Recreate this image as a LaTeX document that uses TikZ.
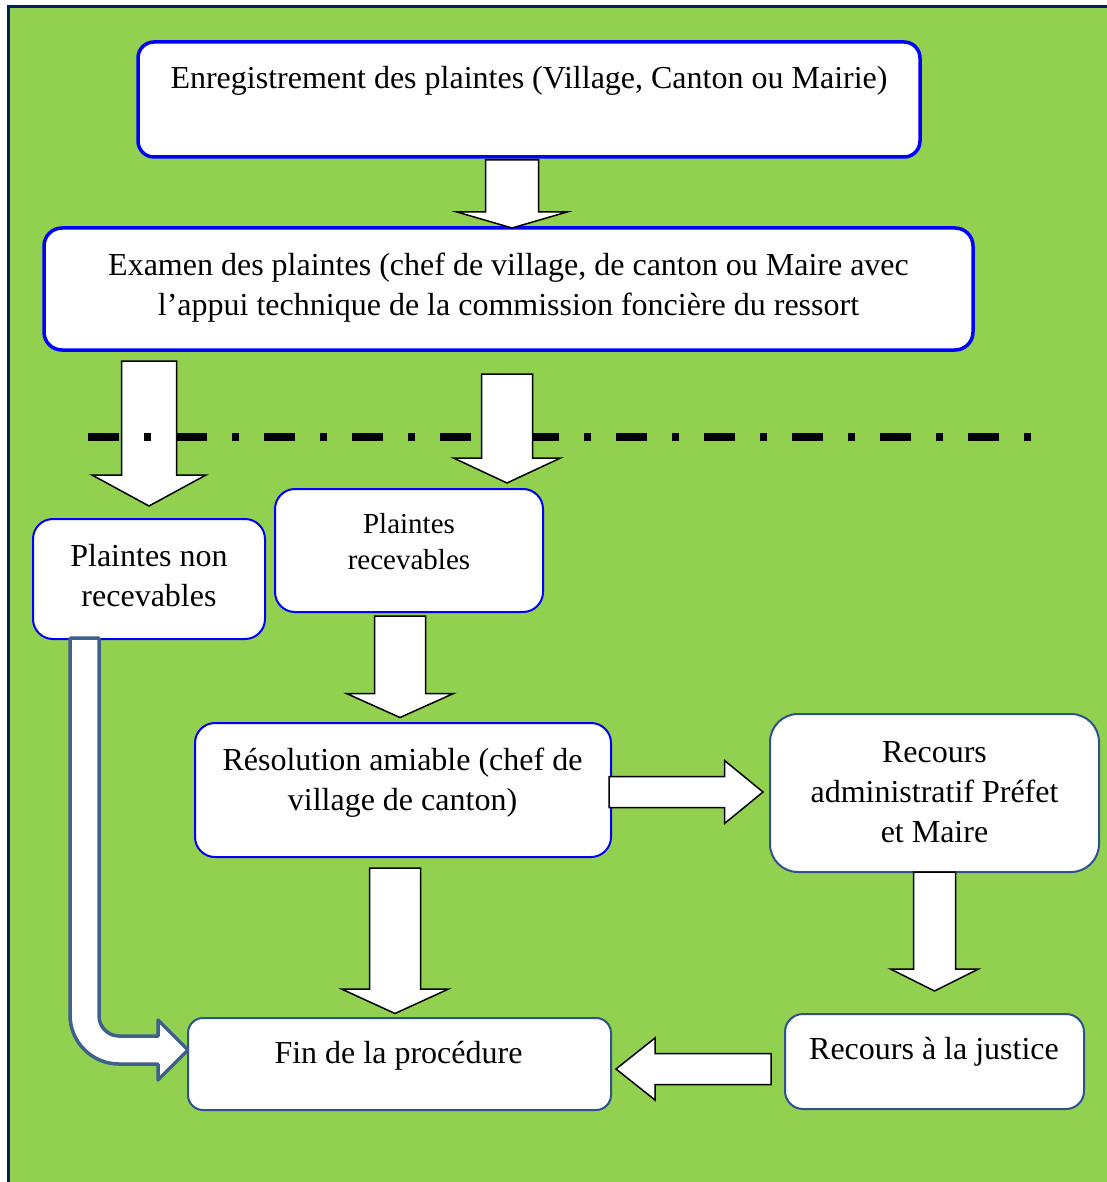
\documentclass[tikz,border=0pt]{standalone}
\usepackage{fontspec}
\setmainfont{Liberation Serif}
\usepackage{xcolor}
\usepackage{tikz}
\usetikzlibrary{calc}

\definecolor{fieldgreen}{RGB}{146,208,80}
\definecolor{framenavy}{RGB}{0,32,96}
\definecolor{boxblue}{RGB}{0,0,255}
\definecolor{boxsteel}{RGB}{47,82,143}
\definecolor{bentsteel}{RGB}{61,96,140}

% block arrow: [style]{from}{tip}{shaft half width}{head half width}{head length}
\newcommand{\blockarrow}[6][]{%
    \coordinate (bahead) at ($(#3)!#6!(#2)$);
    \draw [blockarrow, #1] ($(#2)!#4!90:(#3)$) -- ($(bahead)!#4!90:(#3)$) -- ($(bahead)!#5!90:(#3)$)
        -- (#3) -- ($(bahead)!#5!-90:(#3)$) -- ($(bahead)!#4!-90:(#3)$) -- ($(#2)!#4!-90:(#3)$) -- cycle;}

\begin{document}
\begin{tikzpicture}[x = 1pt, y = -1pt,
        box/.style = {draw = boxblue, fill = white, line width = 2pt, rounded corners = 18pt, inner sep = 0pt, outer sep = 0pt},
        bigbox/.style = {box, line width = 3.5pt, rounded corners = 16pt},
        steelbox/.style = {box, draw = boxsteel},
        txt/.style = {font = \fontsize{32}{40}\selectfont, align = center, inner sep = 0pt},
        blockarrow/.style = {draw = black, fill = white, line width = 1.5pt, line join = miter}]

    % Draw the frame:
    \fill [white] (0,0) rectangle (1107,1182);
    \useasboundingbox (0,0) rectangle (1107,1182);
    \fill [fieldgreen] (8.7,6.5) rectangle (1107,1182);
    \draw [framenavy, line width = 3.4pt] (8.7,1182) -- (8.7,6.5) -- (1107,6.5);

    % Draw the boxes:
    \node [bigbox, minimum width = 782pt, minimum height = 115pt] (enreg) at (529,99.5) {};
    \node [bigbox, minimum width = 929pt, minimum height = 122pt, rounded corners = 18pt] (examen) at (508.5,289) {};
    \node [box, minimum width = 232pt, minimum height = 120pt, rounded corners = 20pt] (nonrec) at (149,579) {};
    \node [box, minimum width = 268pt, minimum height = 123pt, rounded corners = 20pt] (recv) at (409,550.5) {};
    \node [box, minimum width = 416pt, minimum height = 134pt, rounded corners = 20pt] (resol) at (403,790) {};
    \node [steelbox, minimum width = 329pt, minimum height = 158pt, rounded corners = 28pt] (admin) at (934.5,793) {};
    \node [steelbox, minimum width = 423pt, minimum height = 92pt, rounded corners = 15pt] (fin) at (399.5,1064) {};
    \node [steelbox, minimum width = 299pt, minimum height = 95pt] (justice) at (934.5,1061.5) {};

    % Draw the texts:
    \node [txt] (enregtxt) at (529,81) {\strut Enregistrement des plaintes (Village, Canton ou Mairie)};
    \node [txt] (examentxt) at (508.5,287.5) {\strut Examen des plaintes (chef de village, de canton ou Maire avec\\\strut l’appui technique de la commission foncière du ressort};
    \node [txt] (nonrectxt) at (149,578.5) {\strut Plaintes non\\\strut recevables};
    \node [txt, font = \fontsize{29}{36}\selectfont] (recvtxt) at (409,544.5) {\strut Plaintes\\\strut recevables};
    \node [txt] (resoltxt) at (402.5,782) {\strut Résolution amiable (chef de\\\strut village de canton)};
    \node [txt] (admintxt) at (934.5,794) {\strut Recours\\\strut administratif Préfet\\\strut et Maire};
    \node [txt] (fintxt) at (398.5,1055.5) {\strut Fin de la procédure};
    \node [txt] (justicetxt) at (934,1051) {\strut Recours à la justice};

    % Draw the block arrows:
    \coordinate (a1s) at ($(enreg.south -| examen.north)+(3.5,3)$);
    \coordinate (a1t) at ($(examen.north)+(3.5,0)$);
    \blockarrow{a1s}{a1t}{26.5pt}{55pt}{16pt}
    \coordinate (a2s) at ($(examen.south -| nonrec.north)+(0,11)$);
    \coordinate (a2t) at ($(nonrec.north)+(0,-13)$);
    \blockarrow{a2s}{a2t}{27.5pt}{57pt}{31pt}

    \draw [line width = 8pt, dash pattern = on 31pt off 25pt on 7pt off 25pt] (88,437) -- (1032,437);

    \coordinate (a3s) at ($(examen.south)+(-1.5,24)$);
    \coordinate (a3t) at ($(examen.south |- recv.north)+(-1.5,-6)$);
    \blockarrow{a3s}{a3t}{25.5pt}{53.5pt}{25pt}
    \coordinate (a4s) at ($(recv.south -| resol.north)+(-3,4)$);
    \coordinate (a4t) at ($(resol.north)+(-3,-5.5)$);
    \blockarrow{a4s}{a4t}{25.5pt}{53.5pt}{24pt}
    \coordinate (a5s) at ($(resol.south -| fin.north)+(-4.5,11)$);
    \coordinate (a5t) at ($(fin.north)+(-4.5,-4.5)$);
    \blockarrow{a5s}{a5t}{25.5pt}{53.5pt}{24.5pt}
    \coordinate (a6s) at ($(resol.east)+(-2,2)$);
    \coordinate (a6t) at ($(resol.east -| admin.west)+(-7,2)$);
    \blockarrow{a6s}{a6t}{15.5pt}{31.5pt}{38.5pt}
    \coordinate (a7s) at (admin.south);
    \coordinate (a7t) at ($(admin.south |- justice.north)+(0,-23)$);
    \blockarrow{a7s}{a7t}{21pt}{44pt}{22pt}
    \coordinate (a8s) at ($(justice.west)+(-14,7.5)$);
    \coordinate (a8t) at ($(justice.west -| fin.east)+(5,7.5)$);
    \blockarrow{a8s}{a8t}{15.5pt}{31pt}{39pt}

    % Bent arrow from the rejected complaints:
    \coordinate (rejtop) at ($(nonrec.south west)+(51.5,-1)$);
    \coordinate (rejtip) at ($(fin.west)+(0,-14)$);
    \draw [draw = bentsteel, fill = white, line width = 3.5pt, line join = round]
        ($(rejtop)+(-14.5,0)$) -- ($(rejtop |- rejtip)+(-14.5,-35)$)
        .. controls +(0,27) and +(-27,0) .. ($(rejtop |- rejtip)+(34.5,14)$)
        -- ($(rejtip)+(-30,14)$) -- ($(rejtip)+(-30,30)$) -- (rejtip)
        -- ($(rejtip)+(-30,-30)$) -- ($(rejtip)+(-30,-14)$) -- ($(rejtop |- rejtip)+(34.5,-14)$)
        .. controls +(-11,0) and +(0,11) .. ($(rejtop |- rejtip)+(14.5,-34)$)
        -- ($(rejtop)+(14.5,0)$) -- cycle;
\end{tikzpicture}
\end{document}
